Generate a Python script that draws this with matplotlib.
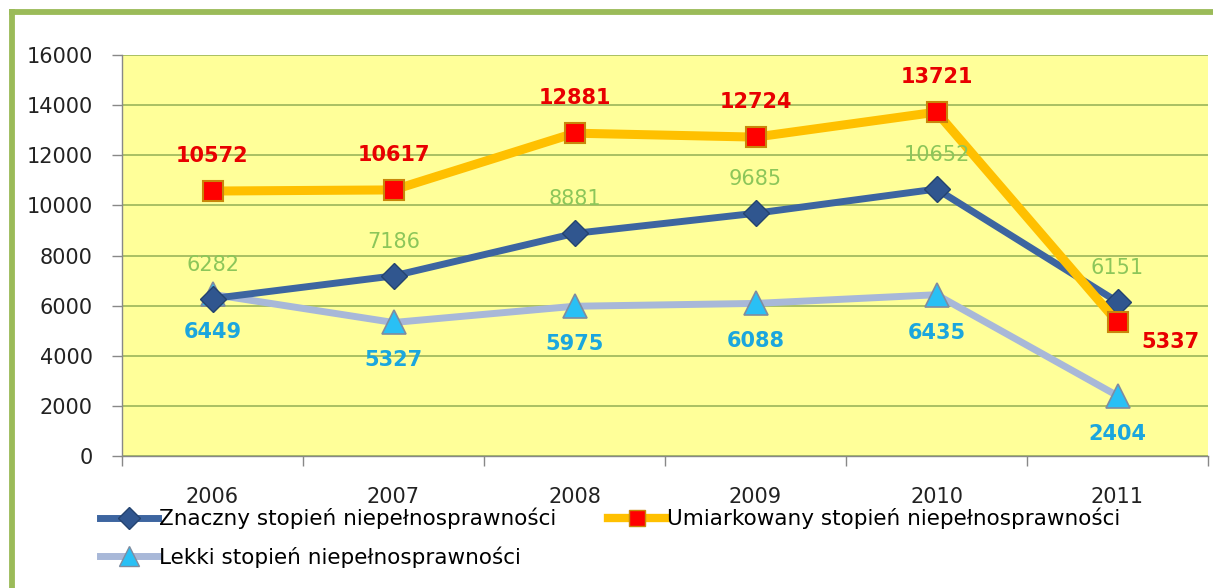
import matplotlib
matplotlib.use("Agg")
import matplotlib.pyplot as plt
from matplotlib.lines import Line2D

years = ["2006", "2007", "2008", "2009", "2010", "2011"]
znaczny = [6282, 7186, 8881, 9685, 10652, 6151]
umiarkowany = [10572, 10617, 12881, 12724, 13721, 5337]
lekki = [6449, 5327, 5975, 6088, 6435, 2404]
yticks = [0, 2000, 4000, 6000, 8000, 10000, 12000, 14000, 16000]
names = ["Znaczny stopień niepełnosprawności",
         "Umiarkowany stopień niepełnosprawności",
         "Lekki stopień niepełnosprawności"]

plt.rcParams['font.family'] = ['DejaVu Sans']
W, H = 1213, 588
fig = plt.figure(figsize=(W / 100, H / 100), dpi=100)
fig.patch.set_facecolor("white")

# green frame (top and left edges)
fc = "#9BBB59"
fig.add_artist(Line2D([11.5 / W, 11.5 / W], [0, 1 - 9 / H], color=fc, lw=4.2, transform=fig.transFigure, solid_capstyle="butt"))
fig.add_artist(Line2D([9 / W, 1], [1 - 11.5 / H, 1 - 11.5 / H], color=fc, lw=4.2, transform=fig.transFigure, solid_capstyle="butt"))

ax = fig.add_axes([122 / W, 1 - 456 / H, (1208 - 122) / W, (456 - 55) / H])
ax.set_facecolor("#FFFF99")
x = list(range(len(years)))

ax.plot(x, umiarkowany, color="#FFC000", lw=6.5, marker="s", ms=15,
        mfc="#FF0000", mec="#C8860A", mew=1.5, zorder=4, solid_capstyle="round")
ax.plot(x, lekki, color="#A8B8D8", lw=5, marker="^", ms=17,
        mfc="#29C0F5", mec="#7F8CA0", mew=1.2, zorder=3, solid_capstyle="round")
ax.plot(x, znaczny, color="#3D65A0", lw=5, marker="D", ms=13,
        mfc="#30568F", mec="#24436F", mew=1.0, zorder=3, solid_capstyle="round")

for i, v in enumerate(znaczny):
    ax.annotate(str(v), (i, v), xytext=(0, 34), textcoords="offset pixels",
                ha="center", va="center", color="#8CC65A", fontsize=15, zorder=6)
for i, v in enumerate(umiarkowany):
    off = (0, 35) if i < len(umiarkowany) - 1 else (53, -20)
    ax.annotate(str(v), (i, v), xytext=off, textcoords="offset pixels",
                ha="center", va="center", color="#E80000", fontsize=15,
                fontweight="bold", zorder=6)
for i, v in enumerate(lekki):
    ax.annotate(str(v), (i, v), xytext=(0, -38), textcoords="offset pixels",
                ha="center", va="center", color="#1BA6DE", fontsize=15,
                fontweight="bold", zorder=6)

ax.set_xlim(-0.5, len(years) - 0.5)
ax.set_ylim(0, 16000)
ax.set_yticks(yticks)
ax.set_yticklabels([str(t) for t in yticks], fontsize=15, color="#222222")
ax.yaxis.grid(True, color="#9BB55A", lw=1.2)
ax.set_axisbelow(True)
ax.set_xticks(x)
ax.set_xticklabels(years, fontsize=15, color="#222222")
ax.set_xticks([i + 0.5 for i in range(-1, len(years))], minor=True)
ax.tick_params(axis="x", which="major", length=0, pad=22)
ax.tick_params(axis="x", which="minor", length=7, color="#888888", width=1)
ax.tick_params(axis="y", length=7, color="#888888", width=1, pad=14)
for s in ["top", "right"]:
    ax.spines[s].set_visible(False)
for s in ["left", "bottom"]:
    ax.spines[s].set_color("#888888")
    ax.spines[s].set_linewidth(1)

h1 = Line2D([], [], color="#3D65A0", lw=5, marker="D", ms=11, mfc="#30568F", mec="#24436F")
h2 = Line2D([], [], color="#FFC000", lw=6, marker="s", ms=12, mfc="#FF0000", mec="#C8860A")
h3 = Line2D([], [], color="#A8B8D8", lw=5, marker="^", ms=14, mfc="#29C0F5", mec="#7F8CA0")
leg = fig.legend([h1, h3, h2], [names[0], names[2], names[1]], ncol=2,
                 loc="upper left", bbox_to_anchor=(91 / W, 1 - 499 / H),
                 frameon=False, fontsize=15.5, handlelength=2.7, handletextpad=0.05,
                 columnspacing=2.4, labelspacing=0.8, borderaxespad=0)

fig.savefig("out.png", dpi=100)
